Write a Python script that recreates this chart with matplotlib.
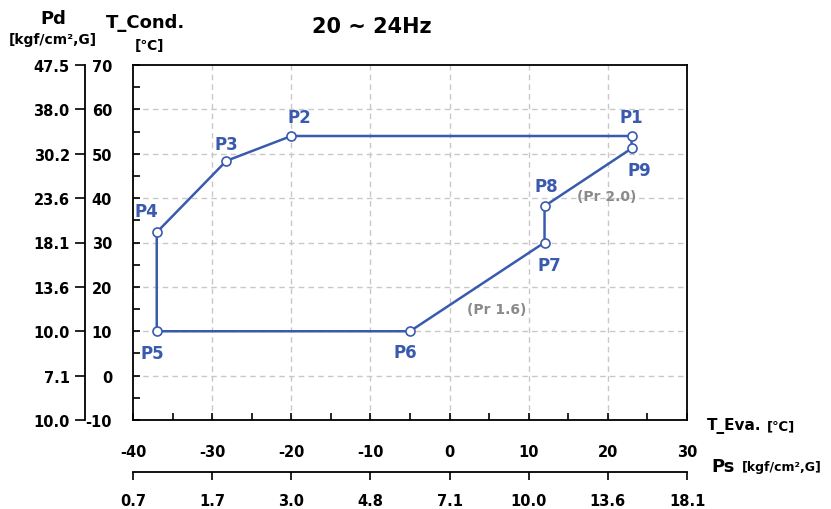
import matplotlib
matplotlib.use("Agg")
import matplotlib.pyplot as plt
from matplotlib.ticker import MultipleLocator

plt.rcParams['font.family'] = ['DejaVu Sans']
plt.rcParams['font.weight'] = 'bold'
plt.rcParams['axes.unicode_minus'] = False

# Data
point_names = ["P1", "P2", "P3", "P4", "P5", "P6", "P7", "P8", "P9"]
t_eva = [23, -20, -28.2, -37, -37, -5, 12, 12, 23]
t_cond = [54, 54, 48.4, 32.3, 10, 10, 30, 38.2, 51.2]
label_offsets = [(0, 19), (8, 19), (0, 17), (-10, 21), (-4, -22), (-5, -21), (5, -23), (2, 20), (8, -22)]

x_ticks = [-40, -30, -20, -10, 0, 10, 20, 30]
y_ticks = [-10, 0, 10, 20, 30, 40, 50, 60, 70]
ps_labels = ["0.7", "1.7", "3.0", "4.8", "7.1", "10.0", "13.6", "18.1"]
pd_labels = ["10.0", "7.1", "10.0", "13.6", "18.1", "23.6", "30.2", "38.0", "47.5"]

pr_notes = ["(Pr 2.0)", "(Pr 1.6)"]
pr_x = [19.9, 6.0]
pr_y = [40.5, 15.0]

blue = "#3a5aae"
gray = "#8a8a8a"

W, H = 831, 510
fig = plt.figure(figsize=(W / 100, H / 100), dpi=100)
L, R, T, B = 133, 687, 66, 421
ax = fig.add_axes([L / W, 1 - B / H, (R - L) / W, (B - T) / H])

ax.set_xlim(-40, 30)
ax.set_ylim(-10, 70)
ax.set_xticks(x_ticks)
ax.set_yticks(y_ticks)
ax.xaxis.set_minor_locator(MultipleLocator(5))
ax.yaxis.set_minor_locator(MultipleLocator(5))
ax.tick_params(which='both', direction='in', top=False, right=False, width=1.2)
ax.tick_params(which='major', length=5)
ax.tick_params(which='minor', length=5)
ax.tick_params(axis='y', which='major', pad=15, labelsize=10.5)
ax.tick_params(axis='x', which='major', pad=17, labelsize=10.5)
for s in ax.spines.values():
    s.set_linewidth(1.3)

for v in x_ticks[1:-1]:
    ax.axvline(v, color='#c8c8c8', ls=(0, (4, 3)), lw=1, zorder=0)
for v in y_ticks[1:-1]:
    ax.axhline(v, color='#c8c8c8', ls=(0, (4, 3)), lw=1, zorder=0)

# closed loop
xs = t_eva + [t_eva[0]]
ys = t_cond + [t_cond[0]]
ax.plot(xs, ys, color=blue, lw=1.8, zorder=3)
ax.plot(t_eva, t_cond, ls='none', marker='o', ms=6.5, mfc='white', mec=blue, mew=1.2, zorder=4)

for n, x, y, off in zip(point_names, t_eva, t_cond, label_offsets):
    ax.annotate(n, (x, y), xytext=off, textcoords='offset pixels', ha='center', va='center',
                color=blue, fontsize=12, fontweight='bold')

for t, x, y in zip(pr_notes, pr_x, pr_y):
    ax.text(x, y, t, color=gray, fontsize=10, fontweight='bold', ha='center', va='center')

# secondary Pd axis
sy = ax.secondary_yaxis((85 - L) / (R - L))
sy.set_yticks(y_ticks)
sy.set_yticklabels(pd_labels)
sy.tick_params(direction='out', length=7, width=1.2, pad=4, labelsize=10.5)
sy.spines['left'].set_linewidth(1.3)

# secondary Ps axis
sx = ax.secondary_xaxis(-(473 - B) / (B - T))
sx.set_xticks(x_ticks)
sx.set_xticklabels(ps_labels)
sx.tick_params(direction='out', length=6, width=1.2, pad=9, labelsize=10.5)
sx.spines['bottom'].set_linewidth(1.3)

# axis titles
fig.text(53 / W, 1 - 19 / H, "Pd", ha='center', va='center', fontsize=13, fontweight='bold')
fig.text(53 / W, 1 - 40 / H, "[kgf/cm²,G]", ha='center', va='center', fontsize=10, fontweight='bold')
fig.text(145 / W, 1 - 23 / H, "T_Cond.", ha='center', va='center', fontsize=13, fontweight='bold')
fig.text(150 / W, 1 - 46 / H, "[℃]", ha='center', va='center', fontsize=10, fontweight='bold')
fig.text(372 / W, 1 - 27 / H, "20 ~ 24Hz", ha='center', va='center', fontsize=15, fontweight='bold')
fig.text(707 / W, 1 - 426 / H, "T_Eva.", ha='left', va='center', fontsize=11, fontweight='bold')
fig.text(767 / W, 1 - 427 / H, "[℃]", ha='left', va='center', fontsize=9.5, fontweight='bold')
fig.text(711 / W, 1 - 467 / H, "Ps", ha='left', va='center', fontsize=13, fontweight='bold')
fig.text(742 / W, 1 - 468 / H, "[kgf/cm²,G]", ha='left', va='center', fontsize=9, fontweight='bold')

fig.savefig("out.png", dpi=100)
